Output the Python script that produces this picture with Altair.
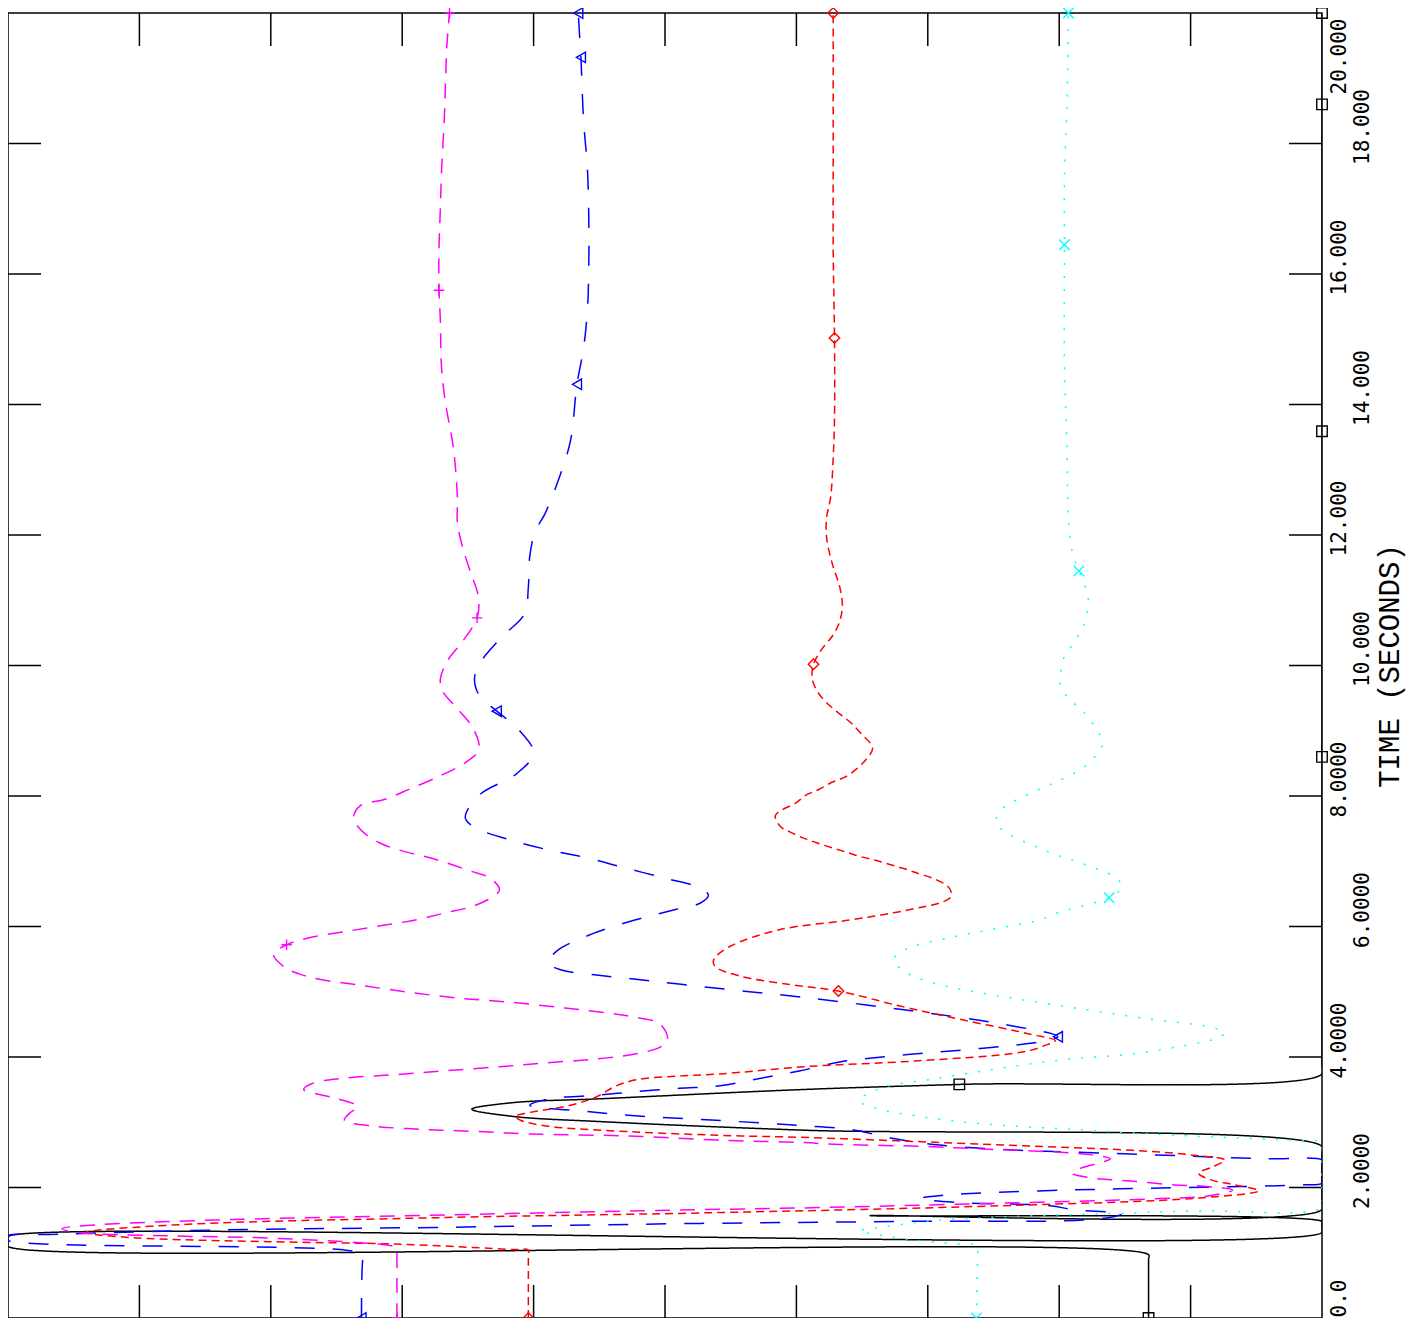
import altair as alt
import pandas as pd

# ---- series data: time (s) and response value (plot units 0..10, beyond = off-scale) ----
black_t = [0, 0.90, 0.97, 1.10, 1.16, 1.21, 1.25, 1.31, 1.38, 1.45, 1.48, 1.57, 1.66, 1.80, 2.50, 2.63,
           2.88, 3.01, 3.09, 3.20, 3.30, 3.36, 3.50, 3.58, 3.74, 3.90, 20.0]
black_v = [8.68, 8.68, 8.68, 0.0, -1.0, -1.0, 0.0, 10.0, 11.0, 11.0, 10.0, 6.56, 10.0, 11.0, 11.0, 10.0,
           6.03, 4.51, 3.84, 3.53, 3.84, 4.51, 6.03, 7.24, 10.0, 11.0, 11.0]
black_mt = [0, 3.58, 8.6, 13.59, 18.6, 20.0]
black_mv = [8.68, 7.24, 11.0, 11.0, 11.0, 11.0]

blue_t = [0, 0.90, 0.97, 1.04, 1.19, 1.22, 1.26, 1.28, 1.35, 1.39, 1.45, 1.48, 1.52, 1.60, 1.66, 1.72,
          1.77, 1.83, 1.89, 1.95, 1.98, 2.04, 2.07, 2.20, 2.35, 2.42, 2.44, 2.48, 2.53, 2.57, 2.65,
          2.75, 2.89, 2.95, 2.98, 3.03, 3.07, 3.11, 3.17, 3.26, 3.36, 3.41, 3.47, 3.52, 3.56, 3.67,
          3.79, 3.93, 4.00, 4.06, 4.11, 4.17, 4.23, 4.31, 4.51, 4.73, 4.92, 5.02, 5.11, 5.18, 5.25,
          5.34, 5.45, 5.63, 5.89, 6.10, 6.26, 6.36, 6.48, 6.59, 6.73, 6.89, 7.05, 7.18, 7.34, 7.52,
          7.67, 8.02, 8.34, 8.66, 9.03, 9.30, 9.53, 9.79, 10.03, 10.44, 10.79, 11.20, 11.66, 12.04,
          12.34, 12.85, 13.44, 14.31, 14.86, 15.46, 16.15, 16.83, 17.60, 18.36, 19.32, 19.65, 20.0]
blue_v = [2.69, 2.70, 2.71, 2.57, 0.0, -1.0, 0.0, 0.31, 1.64, 3.33, 5.27, 6.79, 8.31, 8.48, 8.11, 7.93,
          7.24, 6.94, 7.17, 7.89, 8.46, 9.83, 10.0, 11.0, 11.0, 10.0, 9.57, 9.00, 8.31, 7.70, 7.09,
          6.74, 6.41, 6.03, 5.80, 5.39, 5.02, 4.70, 4.38, 3.97, 4.12, 4.46, 4.78, 5.11, 5.42, 5.72,
          6.03, 6.35, 6.65, 6.97, 7.28, 7.60, 7.85, 7.99, 7.55, 6.79, 6.03, 5.55, 5.14, 4.83, 4.51,
          4.20, 4.11, 4.18, 4.45, 4.77, 5.08, 5.27, 5.33, 5.27, 5.02, 4.71, 4.41, 4.10, 3.80, 3.55,
          3.48, 3.59, 3.87, 4.00, 3.88, 3.72, 3.59, 3.55, 3.59, 3.76, 3.93, 3.96, 3.97, 4.01,
          4.09, 4.19, 4.28, 4.33, 4.38, 4.41, 4.42, 4.42, 4.41, 4.38, 4.36, 4.35, 4.34]
blue_mt = [0, 4.31, 9.30, 14.31, 19.32, 20.0]
blue_mv = [2.69, 7.99, 3.72, 4.33, 4.36, 4.34]

red_t = [0, 0.95, 1.04, 1.05, 1.13, 1.17, 1.23, 1.31, 1.43, 1.54, 1.61, 1.72, 1.84, 1.95, 2.04, 2.12,
         2.22, 2.31, 2.42, 2.50, 2.57, 2.65, 2.77, 2.79, 2.85, 2.94, 3.03, 3.09, 3.15, 3.26, 3.39,
         3.55, 3.65, 3.71, 3.74, 3.85, 3.94, 4.08, 4.19, 4.25, 4.35, 4.58, 4.78, 5.01, 5.11, 5.24,
         5.39, 5.49, 5.69, 5.95, 6.10, 6.21, 6.30, 6.36, 6.44, 6.51, 6.62, 6.73, 6.81, 6.88, 6.95,
         7.01, 7.07, 7.14, 7.20, 7.28, 7.35, 7.45, 7.53, 7.70, 7.90, 8.01, 8.10, 8.21, 8.29, 8.42,
         8.56, 8.74, 8.96, 9.13, 9.29, 9.43, 9.60, 9.80, 10.02, 10.24, 10.47, 10.68, 10.93, 11.20,
         11.58, 11.96, 12.27, 12.57, 13.18, 13.79, 15.02, 16.38, 17.90, 20.0]
red_v = [3.96, 3.96, 3.96, 3.84, 3.00, 1.98, 0.96, 0.59, 1.30, 3.33, 5.27, 7.55, 9.07, 9.52, 9.34, 9.15,
         9.06, 9.16, 9.26, 9.00, 8.56, 7.59, 6.03, 5.58, 4.78, 4.11, 3.90, 3.86, 3.97, 4.28, 4.48,
         4.62, 4.78, 5.11, 5.42, 6.05, 6.91, 7.73, 7.91, 7.97, 7.78, 7.24, 6.79, 6.32, 5.95, 5.57,
         5.38, 5.37, 5.49, 5.87, 6.41, 6.74, 6.96, 7.09, 7.17, 7.18, 7.15, 7.05, 6.93, 6.83, 6.71,
         6.61, 6.49, 6.38, 6.28, 6.16, 6.06, 5.95, 5.88, 5.84, 6.00, 6.07, 6.17, 6.27, 6.37, 6.46,
         6.53, 6.58, 6.49, 6.41, 6.31, 6.23, 6.16, 6.12, 6.13, 6.19, 6.28, 6.33, 6.35, 6.33,
         6.27, 6.23, 6.23, 6.26, 6.28, 6.29, 6.29, 6.28, 6.28, 6.28]
red_mt = [0, 5.01, 10.02, 15.02, 20.0]
red_mv = [3.96, 6.32, 6.13, 6.29, 6.28]

magenta_t = [0, 1.00, 1.07, 1.10, 1.22, 1.26, 1.31, 1.37, 1.43, 1.51, 1.58, 1.66, 1.69, 1.74, 1.83, 1.87,
             1.96, 2.02, 2.04, 2.10, 2.15, 2.22, 2.30, 2.39, 2.44, 2.50, 2.54, 2.57, 2.60, 2.63,
             2.66, 2.69, 2.72, 2.79, 2.82, 2.86, 2.89, 2.94, 3.03, 3.14, 3.24, 3.36, 3.44, 3.50,
             3.59, 3.67, 3.73, 3.79, 3.85, 3.91, 3.97, 4.06, 4.17, 4.28, 4.51, 4.61, 4.67, 4.75,
             4.84, 4.90, 4.99, 5.10, 5.19, 5.27, 5.37, 5.57, 5.72, 5.83, 5.92, 6.01, 6.10, 6.21,
             6.30, 6.41, 6.56, 6.74, 6.85, 7.03, 7.17, 7.28, 7.47, 7.67, 7.85, 7.95, 8.11, 8.31,
             8.51, 8.69, 8.84, 9.10, 9.38, 9.60, 9.79, 10.09, 10.37, 10.73, 11.05, 11.43, 11.81,
             12.19, 12.57, 13.33, 14.02, 14.55, 15.31, 15.75, 16.38, 16.99, 17.60, 18.36, 18.97,
             19.50, 20.0]
magenta_v = [2.96, 2.96, 2.96, 2.93, 2.05, 1.21, 0.53, 0.41, 0.70, 1.72, 3.33, 5.27, 6.12, 7.17, 8.77, 9.13,
             9.32, 9.10, 8.88, 8.54, 8.23, 8.10, 8.17, 8.33, 8.39, 8.25, 8.01, 7.67, 7.31, 6.98,
             6.33, 6.03, 5.49, 4.71, 3.97, 3.55, 3.17, 2.79, 2.56, 2.60, 2.66, 2.51, 2.34, 2.25,
             2.31, 2.53, 2.95, 3.33, 3.74, 4.09, 4.48, 4.81, 4.98, 5.02, 4.96, 4.77, 4.58, 4.24,
             3.82, 3.44, 3.06, 2.68, 2.37, 2.22, 2.11, 2.02, 2.12, 2.30, 2.56, 2.83, 3.10, 3.33,
             3.52, 3.65, 3.74, 3.67, 3.52, 3.25, 2.98, 2.83, 2.69, 2.63, 2.68, 2.87, 3.06, 3.29,
             3.48, 3.58, 3.58, 3.52, 3.40, 3.31, 3.29, 3.35, 3.46, 3.57, 3.58, 3.52, 3.46,
             3.42, 3.42, 3.39, 3.33, 3.30, 3.29, 3.28, 3.28, 3.29, 3.30, 3.32, 3.33,
             3.34, 3.36]
magenta_mt = [0, 5.72, 10.73, 15.75, 20.0]
magenta_mv = [2.96, 2.12, 3.57, 3.28, 3.36]

cyan_t = [0, 1.05, 1.11, 1.14, 1.25, 1.34, 1.37, 1.49, 1.55, 1.60, 1.64, 1.69, 1.85, 2.55, 2.69, 2.72,
          2.80, 2.89, 2.98, 3.09, 3.21, 3.33, 3.52, 3.67, 3.82, 3.96, 4.05, 4.19, 4.28, 4.37, 4.46,
          4.58, 4.81, 4.96, 5.11, 5.30, 5.49, 5.65, 5.83, 5.95, 6.10, 6.21, 6.36, 6.44, 6.61, 6.76,
          6.94, 7.09, 7.26, 7.47, 7.63, 7.81, 8.04, 8.22, 8.43, 8.65, 8.80, 9.00, 9.30, 9.48, 9.68,
          9.86, 10.09, 10.44, 10.70, 11.05, 11.45, 11.74, 12.27, 13.33, 14.60, 16.45, 17.44, 18.66,
          20.0]
cyan_v = [7.37, 7.38, 7.38, 7.17, 6.69, 6.48, 6.58, 7.02, 7.59, 8.37, 9.03, 10.0, 11.0, 11.0, 10.0, 9.80,
          8.89, 8.11, 7.40, 6.94, 6.61, 6.48, 6.64, 7.07, 7.53, 8.04, 8.57, 8.99, 9.19, 9.26, 9.15,
          8.69, 7.93, 7.47, 7.09, 6.83, 6.74, 6.83, 7.17, 7.47, 7.85, 7.99, 8.26, 8.38, 8.48, 8.42,
          8.21, 7.99, 7.78, 7.57, 7.52, 7.57, 7.78, 7.98, 8.18, 8.29, 8.33, 8.29, 8.18, 8.08, 8.01,
          8.01, 8.03, 8.14, 8.20, 8.22, 8.15, 8.10, 8.07, 8.06, 8.04, 8.04, 8.04, 8.06,
          8.07]
cyan_mt = [0, 6.44, 11.45, 16.45, 20.0]
cyan_mv = [7.37, 8.38, 8.15, 8.04, 8.07]

series_names = ["black", "blue", "red", "magenta", "cyan"]
series_colors = ["#000000", "#0000ff", "#ff0000", "#ff00ff", "#00ffff"]
series_dashes = [[1, 0], [20, 18], [8, 5], [15, 10], [2, 11]]
series_shapes = ["square", "triangle-left", "diamond",
                 "M-1,0L1,0M0,-1L0,1", "M-1,-1L1,1M1,-1L-1,1"]

time_ticks = [2, 4, 6, 8, 10, 12, 14, 16, 18]
value_ticks = [1, 2, 3, 4, 5, 6, 7, 8, 9]
labels_a = [4, 8, 12, 16]
labels_b = [2, 6, 10, 14, 18]
labels_top = [20]
labels_bottom = [0]

# ---- tables built from the arrays ----
line_rows, mark_rows = [], []
for name, t, v, mt, mv in [
    ("black", black_t, black_v, black_mt, black_mv),
    ("blue", blue_t, blue_v, blue_mt, blue_mv),
    ("red", red_t, red_v, red_mt, red_mv),
    ("magenta", magenta_t, magenta_v, magenta_mt, magenta_mv),
    ("cyan", cyan_t, cyan_v, cyan_mt, cyan_mv),
]:
    line_rows += [{"series": name, "t": a, "v": b} for a, b in zip(t, v)]
    mark_rows += [{"series": name, "t": a, "v": b} for a, b in zip(mt, mv)]
lines_df = pd.DataFrame(line_rows)
marks_df = pd.DataFrame(mark_rows)
tt_df = pd.DataFrame({"t": time_ticks})
vt_df = pd.DataFrame({"v": value_ticks})

W = 1314
H = 1305
TL = 33

xscale = alt.Scale(domain=[0, 10], nice=False, zero=False, clamp=True)
yscale = alt.Scale(domain=[0, 20], nice=False, zero=False)

label_expr = ("datum.value == 0 ? '0.0' : (datum.value < 10 ? format(datum.value, '.4f') "
              ": format(datum.value, '.3f'))")


def time_axis(values, padding, offset, title=None):
    kw = dict(
        orient="right", values=values, labelExpr=label_expr, ticks=False, domain=False,
        grid=False, labelAngle=270, labelAlign="center", labelBaseline="top",
        labelPadding=padding, labelOffset=offset, labelFont="DejaVu Sans Mono",
        labelFontSize=21, labelColor="black", labelOverlap=False, labelFlush=False,
    )
    if title:
        kw.update(title=title, titleAngle=270, titleBaseline="top", titleFont="Liberation Mono",
                  titleFontSize=29, titleFontWeight="normal", titleColor="black",
                  titlePadding=3)
    else:
        kw.update(title=None)
    return alt.Axis(**kw)


color = alt.Color("series:N", scale=alt.Scale(domain=series_names, range=series_colors), legend=None)

lines = alt.Chart(lines_df).mark_line(strokeWidth=1.5, interpolate="catmull-rom", clip=True).encode(
    x=alt.X("v:Q", scale=xscale, axis=None),
    y=alt.Y("t:Q", scale=yscale, axis=time_axis(labels_bottom, 6, -20)),
    color=color,
    strokeDash=alt.StrokeDash("series:N", scale=alt.Scale(domain=series_names, range=series_dashes),
                              legend=None),
    order=alt.Order("t:Q"),
)

points = alt.Chart(marks_df).mark_point(filled=False, size=110, strokeWidth=1.4, opacity=1).encode(
    x=alt.X("v:Q", scale=xscale, axis=None),
    y=alt.Y("t:Q", scale=yscale, axis=time_axis(labels_top, 6, 43)),
    color=color,
    shape=alt.Shape("series:N", scale=alt.Scale(domain=series_names, range=series_shapes), legend=None),
)

left_ticks = alt.Chart(tt_df).mark_rule(color="black", strokeWidth=1.5).encode(
    y=alt.Y("t:Q", scale=yscale, axis=time_axis(labels_a, 6, -17)),
    x=alt.value(0), x2=alt.value(TL),
)
right_ticks = alt.Chart(tt_df).mark_rule(color="black", strokeWidth=1.5).encode(
    y=alt.Y("t:Q", scale=yscale, axis=time_axis(labels_b, 29, -17, "TIME  (SECONDS)")),
    x=alt.value(W - TL), x2=alt.value(W),
)
bottom_ticks = alt.Chart(vt_df).mark_rule(color="black", strokeWidth=1.5).encode(
    x=alt.X("v:Q", scale=xscale, axis=None),
    y=alt.value(H - TL), y2=alt.value(H),
)
top_ticks = alt.Chart(vt_df).mark_rule(color="black", strokeWidth=1.5).encode(
    x=alt.X("v:Q", scale=xscale, axis=None),
    y=alt.value(0), y2=alt.value(TL),
)

chart = alt.layer(
    left_ticks, right_ticks, bottom_ticks, top_ticks, lines, points
).resolve_axis(y="independent").properties(
    width=W, height=H,
    autosize=alt.AutoSizeParams(type="none"),
    padding={"left": 0, "top": 5, "right": 85, "bottom": 0},
    background="white",
).configure_view(stroke="black", strokeWidth=1.5)

chart.save("out.html", embed_options={"renderer": "svg", "actions": False})
